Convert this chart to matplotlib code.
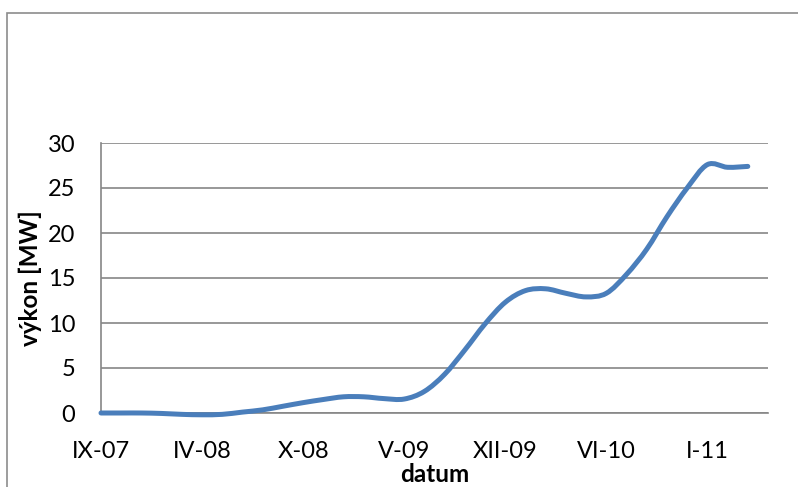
import numpy as np
import matplotlib
matplotlib.use("Agg")
import matplotlib.pyplot as plt
from matplotlib.path import Path
from matplotlib.patches import PathPatch, Rectangle

# ---- data ----
tick_labels = ["IX-07", "IV-08", "X-08", "V-09", "XII-09", "VI-10", "I-11"]
values = [0.0, 0.0, 0.0, -0.05, -0.15, -0.2, -0.15, 0.1, 0.35, 0.75,
          1.15, 1.5, 1.8, 1.8, 1.6, 1.55, 2.4, 4.3, 7.0, 9.9,
          12.3, 13.6, 13.8, 13.3, 12.9, 13.3, 15.4, 18.2, 21.8, 25.0,
          27.6, 27.3, 27.4]
n_categories = 34
label_step = 5
yticks = [0, 5, 10, 15, 20, 25, 30]

FONT = ["Lato", "DejaVu Sans"]
plt.rcParams['font.family'] = FONT

W, H = 798, 487
fig = plt.figure(figsize=(W / 100, H / 100), dpi=100)

# outer chart frame
fig.patches.append(Rectangle((6.5 / W, -0.1), 1.2, 1 - 12.5 / H + 0.1,
                             transform=fig.transFigure, fill=False,
                             edgecolor="#8c8c8c", linewidth=1.2))

ax = fig.add_axes([101 / W, (H - 413) / H, (768 - 101) / W, 270 / H])

x = np.arange(len(values), dtype=float)
y = np.array(values, dtype=float)

# Smoothed line (Catmull-Rom style Bezier, like Excel's smoothed line)
verts = [(x[0], y[0])]
codes = [Path.MOVETO]
n = len(x)
for i in range(n - 1):
    p0 = np.array([x[max(i - 1, 0)], y[max(i - 1, 0)]])
    p1 = np.array([x[i], y[i]])
    p2 = np.array([x[i + 1], y[i + 1]])
    p3 = np.array([x[min(i + 2, n - 1)], y[min(i + 2, n - 1)]])
    c1 = p1 + (p2 - p0) / 6.0
    c2 = p2 - (p3 - p1) / 6.0
    verts += [tuple(c1), tuple(c2), tuple(p2)]
    codes += [Path.CURVE4] * 3
patch = PathPatch(Path(verts, codes), facecolor="none", edgecolor="#4A7EBB",
                  linewidth=3.6, capstyle="round", joinstyle="round", zorder=3,
                  clip_on=False)
ax.add_patch(patch)

ax.set_xlim(0, n_categories - 1)
ax.set_ylim(0, 30)
ax.set_yticks(yticks)
ax.set_xticks(np.arange(0, n_categories, label_step))
ax.set_xticklabels(tick_labels)

ax.grid(axis="y", color="#868686", linewidth=1.2)
ax.set_axisbelow(True)
for s in ["top", "right"]:
    ax.spines[s].set_visible(False)
for s in ["left", "bottom"]:
    ax.spines[s].set_color("#868686")
    ax.spines[s].set_linewidth(1.2)

ax.tick_params(axis="both", length=0, labelsize=17, colors="black")
ax.tick_params(axis="y", pad=18.5)
ax.tick_params(axis="x", pad=20)

ax.set_ylabel("výkon [MW]", fontsize=17.5, fontweight="bold", labelpad=4)
ax.set_xlabel("datum", fontsize=17.5, fontweight="bold", labelpad=1)

fig.savefig("out.png", dpi=100)
